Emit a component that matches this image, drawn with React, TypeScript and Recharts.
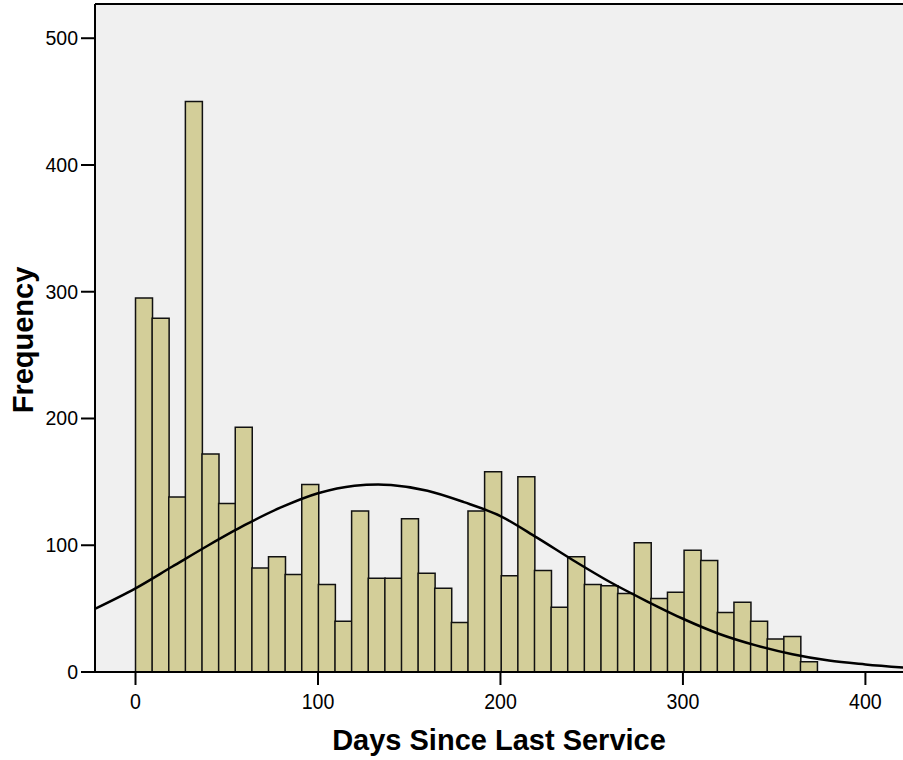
import { ComposedChart, Bar, Line, XAxis, YAxis, ReferenceLine } from "recharts";

// histogram of days since last service, bins of ~9.1 days starting at 0
const BIN_WIDTH = 9.11;
const frequencies = [
  295, 279, 138, 450, 172, 133, 193, 82, 91, 77,
  148, 69, 40, 127, 74, 74, 121, 78, 66, 39,
  127, 158, 76, 154, 80, 51, 91, 69, 68, 62,
  102, 58, 63, 96, 88, 47, 55, 40, 26, 28, 8,
];

// normal curve
const curveDays = [-22, 0, 20, 40, 60, 80, 100, 120, 133, 140, 160, 180, 200, 220, 240, 260, 280, 300, 320, 340, 360, 380, 400, 421];
const curveFreq = [50, 66, 83, 100, 116, 130, 141, 147, 148, 147.5, 143, 134, 123, 106, 88, 71, 56, 42, 30, 21, 14, 9, 6, 3.5];

const xTicks = [0, 100, 200, 300, 400];
const yTicks = [0, 100, 200, 300, 400, 500];
const X_DOMAIN: [number, number] = [-22.2, 420.6];
const Y_DOMAIN: [number, number] = [0, 527];

const bins = frequencies.map((f, i) => ({ day: i * BIN_WIDTH + BIN_WIDTH / 2, freq: f }));
const curve = curveDays.map((d, i) => ({ day: d, val: curveFreq[i] }));

const FONT = "Liberation Sans, Arial, sans-serif";

// x tick labels in the original are a condensed face
const XTick = (props: any) => {
  const { x, y, payload } = props;
  return (
    <text transform={`translate(${x}, ${y + 16}) scale(0.87, 1)`} textAnchor="middle" fontFamily={FONT} fontSize={22.5} fill="#000">
      {payload.value}
    </text>
  );
};

const XTitle = (props: any) => {
  const { x, width } = props.viewBox;
  return (
    <text x={x + width / 2} y={750} textAnchor="middle" fontFamily={FONT} fontWeight="bold" fontSize={29} fill="#000">
      Days Since Last Service
    </text>
  );
};

const YTitle = () => (
  <text transform="translate(33, 340) rotate(-90)" textAnchor="middle" fontFamily={FONT} fontWeight="bold" fontSize={29} fill="#000">
    Frequency
  </text>
);

export default function App() {
  return (
    <div style={{ width: 903, height: 760 }}>
      <style>{`body{margin:0;}`}</style>
      <ComposedChart width={903} height={760} data={bins} margin={{ top: 4, right: 0, bottom: 0, left: 0 }} barCategoryGap={0} barGap={0}>
        <rect x={95} y={4} width={808} height={668} fill="#f0f0f0" />
        <XAxis
          dataKey="day" type="number" domain={X_DOMAIN} ticks={xTicks} allowDataOverflow height={88}
          axisLine={{ stroke: "#000", strokeWidth: 2 }} tickLine={{ stroke: "#000", strokeWidth: 2 }} tickSize={13} tickMargin={8}
          tick={XTick}
          label={XTitle}
        />
        <XAxis xAxisId="curve" dataKey="day" type="number" domain={X_DOMAIN} allowDataOverflow hide />
        <YAxis
          type="number" domain={Y_DOMAIN} ticks={yTicks} allowDataOverflow width={95}
          axisLine={{ stroke: "#000", strokeWidth: 2 }} tickLine={{ stroke: "#000", strokeWidth: 2 }} tickSize={14} tickMargin={3}
          tick={{ fontSize: 19.5, fill: "#000", fontFamily: FONT }}
          label={YTitle}
        />
        <ReferenceLine y={527} stroke="#000" strokeWidth={2} />
        <Bar dataKey="freq" fill="#d3ce99" stroke="#111" strokeWidth={1.5} isAnimationActive={false} />
        <Line data={curve} xAxisId="curve" dataKey="val" type="monotone" stroke="#000" strokeWidth={2.5} dot={false} isAnimationActive={false} />
      </ComposedChart>
    </div>
  );
}
